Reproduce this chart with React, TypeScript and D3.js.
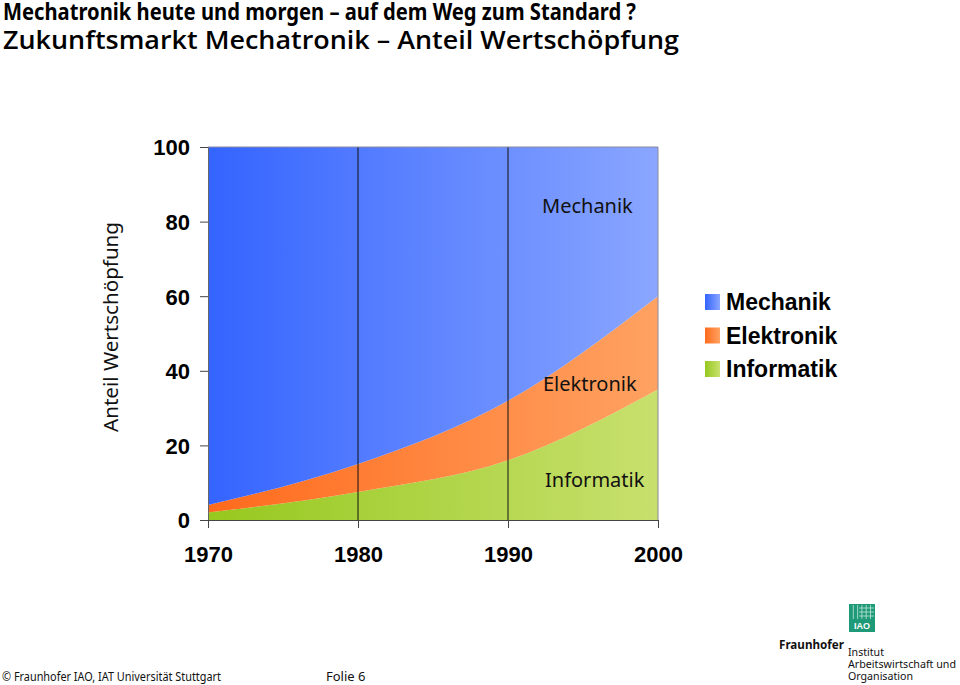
import React, { useEffect, useRef } from 'react';
import * as d3 from 'd3';

const years = [1970, 1980, 1990, 2000];
const informatik = [2, 7.5, 16, 35];
const elektronik = [2, 7.5, 16, 25];
const mechanik = [96, 85, 68, 40];
const seriesNames = ['Informatik', 'Elektronik', 'Mechanik'];
const yTicks = [0, 20, 40, 60, 80, 100];
const legendNames = ['Mechanik', 'Elektronik', 'Informatik'];

const colors: Record<string, [string, string]> = {
  Mechanik: ['#3464ff', '#8aa6ff'],
  Elektronik: ['#ff6a1c', '#ffa262'],
  Informatik: ['#96c81e', '#c8e06e'],
};

const W = 960, H = 685;
const left = 208, right = 658, top = 147, bottom = 520;

const App = () => {
  const ref = useRef<SVGSVGElement>(null);

  useEffect(() => {
    const svg = d3.select(ref.current);
    svg.selectAll('*').remove();

    const rows = years.map((y, i) => ({
      year: y,
      Informatik: informatik[i],
      Elektronik: elektronik[i],
      Mechanik: mechanik[i],
    }));

    const x = d3.scaleLinear().domain([1970, 2000]).range([left, right]);
    const y = d3.scaleLinear().domain([0, 100]).range([bottom, top]);

    const defs = svg.append('defs');
    seriesNames.forEach(name => {
      const g = defs.append('linearGradient').attr('id', 'grad' + name)
        .attr('gradientUnits', 'userSpaceOnUse')
        .attr('x1', left).attr('x2', right).attr('y1', 0).attr('y2', 0);
      g.append('stop').attr('offset', '0%').attr('stop-color', colors[name][0]);
      g.append('stop').attr('offset', '100%').attr('stop-color', colors[name][1]);
      const l = defs.append('linearGradient').attr('id', 'leg' + name)
        .attr('x1', '0%').attr('x2', '100%').attr('y1', '0%').attr('y2', '0%');
      l.append('stop').attr('offset', '0%').attr('stop-color', colors[name][0]);
      l.append('stop').attr('offset', '100%').attr('stop-color', colors[name][1]);
    });

    // titles
    svg.append('text').attr('x', 3).attr('y', 20)
      .style('font-family', 'Noto Sans').style('font-weight', 700).style('font-size', '23.5px')
      .attr('textLength', 633).attr('lengthAdjust', 'spacingAndGlyphs')
      .text('Mechatronik heute und morgen – auf dem Weg zum Standard ?');
    svg.append('text').attr('x', 3).attr('y', 49)
      .style('font-family', 'Open Sans').style('font-weight', 600).style('font-size', '25px')
      .attr('textLength', 676).attr('lengthAdjust', 'spacingAndGlyphs')
      .text('Zukunftsmarkt Mechatronik – Anteil Wertschöpfung');

    const stack = d3.stack<any>().keys(seriesNames);
    const layers = stack(rows);
    const area = d3.area<any>()
      .x(d => x(d.data.year))
      .y0(d => y(d[0]))
      .y1(d => y(d[1]))
      .curve(d3.curveMonotoneX);

    svg.append('g').selectAll('path').data(layers).enter().append('path')
      .attr('d', d => area(d as any))
      .attr('fill', d => `url(#grad${d.key})`);

    // vertical grid lines
    svg.append('g').selectAll('line').data(years.slice(1, 3)).enter().append('line')
      .attr('x1', d => x(d)).attr('x2', d => x(d)).attr('y1', top).attr('y2', bottom)
      .attr('stroke', '#111').attr('stroke-width', 1);

    svg.append('line').attr('x1', left).attr('x2', right).attr('y1', top).attr('y2', top)
      .attr('stroke', '#8a8aa0').attr('stroke-width', 1);
    svg.append('line').attr('x1', right).attr('x2', right).attr('y1', top).attr('y2', bottom)
      .attr('stroke', '#8a8aa0').attr('stroke-width', 1);

    const yAxis = svg.append('g').attr('transform', `translate(${left},0)`)
      .call(d3.axisLeft(y).tickValues(yTicks).tickSize(8).tickPadding(10));
    yAxis.select('.domain').attr('stroke', '#666');
    yAxis.selectAll('.tick line').attr('stroke', '#444');
    yAxis.selectAll('.tick text')
      .style('font-family', 'Liberation Sans').style('font-weight', 700).style('font-size', '22px')
      .attr('fill', '#000').attr('dy', '0.36em');

    const xAxis = svg.append('g').attr('transform', `translate(0,${bottom})`)
      .call(d3.axisBottom(x).tickValues(years).tickFormat(d3.format('d')).tickSize(8).tickPadding(18));
    xAxis.select('.domain').attr('stroke', '#444');
    xAxis.selectAll('.tick line').attr('stroke', '#444');
    xAxis.selectAll('.tick text')
      .style('font-family', 'Liberation Sans').style('font-weight', 700).style('font-size', '22px')
      .attr('fill', '#000');

    // y title
    svg.append('text').attr('transform', `translate(118,327) rotate(-90)`)
      .attr('text-anchor', 'middle')
      .style('font-family', 'Noto Sans').style('font-size', '20px').attr('fill', '#111')
      .attr('textLength', 210).attr('lengthAdjust', 'spacingAndGlyphs')
      .text('Anteil Wertschöpfung');

    // inner labels
    const inner = [
      { name: 'Mechanik', x: 542, y: 213 },
      { name: 'Elektronik', x: 543, y: 391 },
      { name: 'Informatik', x: 545, y: 487 },
    ];
    svg.append('g').selectAll('text').data(inner).enter().append('text')
      .attr('x', d => d.x).attr('y', d => d.y)
      .style('font-family', 'Noto Sans').style('font-size', '20px').attr('fill', '#111')
      .text(d => d.name);

    // legend
    const leg = svg.append('g').selectAll('g').data(legendNames).enter().append('g')
      .attr('transform', (d, i) => `translate(705,${302 + i * 33.5})`);
    leg.append('rect').attr('x', 0).attr('y', -8).attr('width', 15).attr('height', 16)
      .attr('fill', d => `url(#leg${d})`);
    leg.append('text').attr('x', 21).attr('y', 8)
      .style('font-family', 'Liberation Sans').style('font-weight', 700).style('font-size', '23px')
      .attr('fill', '#000').text(d => d);

    // footer
    svg.append('text').attr('x', 2).attr('y', 681)
      .style('font-family', 'Noto Sans').style('font-size', '12.5px').attr('fill', '#111')
      .attr('textLength', 219).attr('lengthAdjust', 'spacingAndGlyphs')
      .text('© Fraunhofer IAO, IAT Universität Stuttgart');
    svg.append('text').attr('x', 326).attr('y', 681)
      .style('font-family', 'Noto Sans').style('font-size', '13px').attr('fill', '#111')
      .text('Folie 6');

    // logo
    const logo = svg.append('g').attr('transform', 'translate(849,604)');
    logo.append('rect').attr('width', 26).attr('height', 28).attr('fill', '#1f9a78');
    d3.range(1, 6).forEach(i => {
      logo.append('line').attr('x1', i * 4.3).attr('x2', i * 4.3).attr('y1', 1).attr('y2', 15)
        .attr('stroke', '#bfe6d8').attr('stroke-width', 0.8);
    });
    d3.range(1, 4).forEach(i => {
      logo.append('line').attr('x1', 10).attr('x2', 25).attr('y1', i * 4).attr('y2', i * 4)
        .attr('stroke', '#bfe6d8').attr('stroke-width', 0.8);
    });
    logo.append('text').attr('x', 13).attr('y', 25).attr('text-anchor', 'middle')
      .style('font-family', 'Liberation Sans').style('font-weight', 700).style('font-size', '9px')
      .attr('fill', '#fff').text('IAO');
    svg.append('text').attr('x', 779).attr('y', 649)
      .style('font-family', 'Noto Sans').style('font-weight', 700).style('font-size', '12.5px')
      .attr('textLength', 65).attr('lengthAdjust', 'spacingAndGlyphs')
      .attr('fill', '#111').text('Fraunhofer');
    const lines = [
      { t: 'Institut', w: 36 },
      { t: 'Arbeitswirtschaft und', w: 108 },
      { t: 'Organisation', w: 65 },
    ];
    svg.append('g').selectAll('text').data(lines).enter().append('text')
      .attr('x', 848).attr('y', (d, i) => 656 + i * 12)
      .style('font-family', 'Noto Sans').style('font-size', '11px').attr('fill', '#111')
      .attr('textLength', d => d.w).attr('lengthAdjust', 'spacingAndGlyphs')
      .text(d => d.t);
  }, []);

  return (
    <svg ref={ref} width={W} height={H}
      style={{ position: 'absolute', left: 0, top: 0, background: '#fff' }} />
  );
};

export default App;
